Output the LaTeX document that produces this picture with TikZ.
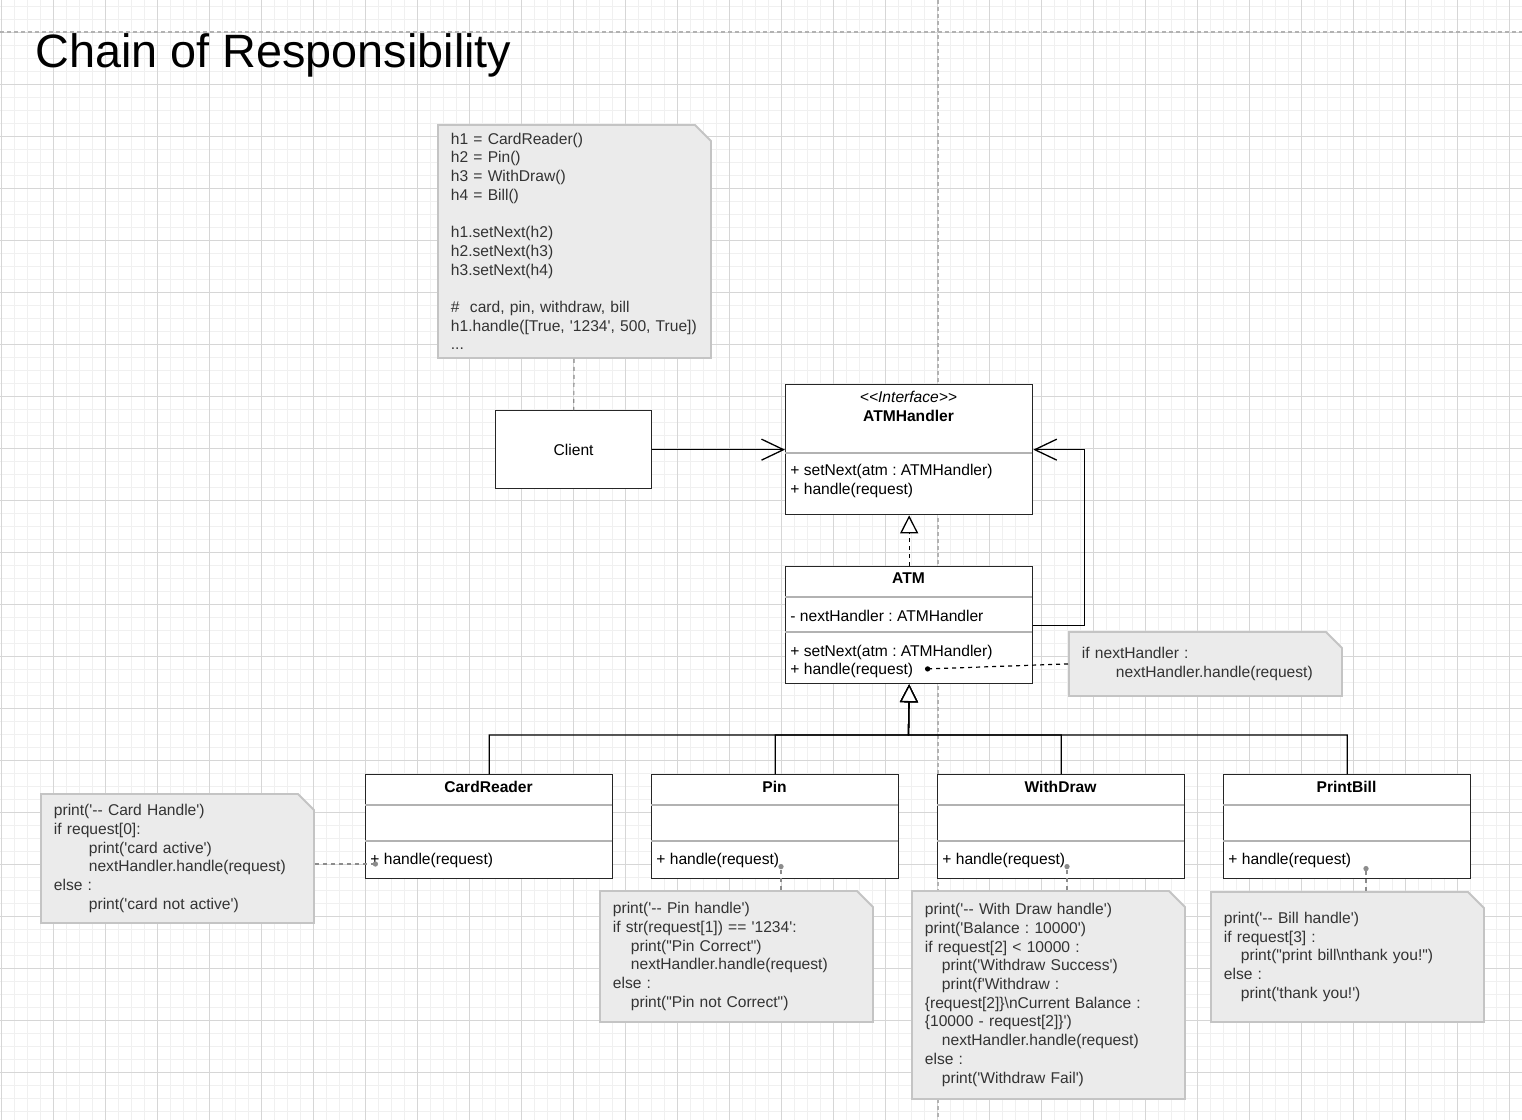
\documentclass[tikz,border=0pt]{standalone}
\usepackage{fontspec}
\setmainfont{Liberation Sans}[Ligatures=TeXOff]
\usepackage{tikz}
\usetikzlibrary{arrows.meta,shapes.misc}
\definecolor{gridminor}{HTML}{F0F0F0}
\definecolor{gridmajor}{HTML}{D6D6D6}
\definecolor{notefill}{HTML}{EBEBEB}
\definecolor{noteline}{HTML}{C4C4C4}
\definecolor{linkgray}{HTML}{8C8C8C}
\frenchspacing

\begin{document}
\begin{tikzpicture}[x=0.5pt,y=-0.5pt,
  font=\fontsize{7.8pt}{9.35pt}\selectfont,
  umlbox/.style={draw=black!85,line width=0.65pt,fill=white,anchor=north west,inner sep=0pt,minimum width=123.5pt},
  divider/.style={draw=black!30,line width=0.65pt},
  classname/.style={inner sep=0pt,font=\fontsize{7.8pt}{9.35pt}\selectfont\bfseries},
  ops/.style={inner sep=0pt,anchor=west,align=left},
  note/.style={shape=chamfered rectangle,chamfered rectangle corners=north east,
    chamfered rectangle xsep=4pt,chamfered rectangle ysep=4pt,
    fill=notefill,draw=noteline,line width=0.9pt,anchor=north west,
    inner xsep=2.5pt,inner ysep=0pt,text width=123.5pt,align=left,text=black!80,
    path picture={\draw[noteline,line width=0.9pt] ([xshift=-4pt]path picture bounding box.north east) |- ([yshift=-4pt]path picture bounding box.north east);}},
  pageline/.style={draw=black!30,line width=0.7pt,dash pattern=on 2pt off 1.5pt},
  assoc/.style={line width=0.65pt,-{Straight Barb[length=11pt,width=10.5pt,line width=0.65pt]}},
  realize/.style={line width=0.65pt,dash pattern=on 2pt off 2pt,-{Triangle[open,fill=white,length=9pt,width=9pt,line width=0.65pt]}},
  inherit/.style={line width=0.65pt,-{Triangle[open,fill=white,length=9pt,width=9pt,line width=0.65pt]}},
  notelink/.style={line width=0.6pt,dash pattern=on 2pt off 2pt,-{Circle[length=2.6pt]}}]
\useasboundingbox (0,0) rectangle (1522,1120);
\foreach \k in {0,...,116} \draw[gridminor,line width=0.5pt] ({1+13*\k},0) -- ({1+13*\k},1120);
\foreach \k in {0,...,85} \draw[gridminor,line width=0.5pt] (0,{6+13*\k}) -- (1522,{6+13*\k});
\foreach \k in {0,...,29} \draw[gridmajor,line width=0.5pt] ({1+52*\k},0) -- ({1+52*\k},1120);
\foreach \k in {0,...,20} \draw[gridmajor,line width=0.5pt] (0,{32+52*\k}) -- (1522,{32+52*\k});
\draw[pageline] (0,32) -- (1522,32) (938,0) -- (938,1120);
\node[anchor=base west,inner sep=0pt,font=\fontsize{23.4pt}{28pt}\selectfont] (heading) at (35,67) {Chain of Responsibility};

\node[note,minimum height=116.5pt] (codenote) at (437,124) {h1 = CardReader()\\
h2 = Pin()\\
h3 = WithDraw()\\
h4 = Bill()\\[9.35pt]
h1.setNext(h2)\\
h2.setNext(h3)\\
h3.setNext(h4)\\[9.35pt]
\# \ card, pin, withdraw, bill\\
h1.handle([True, '1234', 500, True])\\
...};
\node[umlbox,minimum width=78pt,minimum height=39pt] (client) at (495,410) {Client};

\node[umlbox,minimum height=65pt] (handler) at (785,384) {};
\node[inner sep=0pt,font=\fontsize{7.8pt}{9.35pt}\selectfont\itshape] (stereo) at (908.5,397) {<<Interface>>};
\node[classname] (handlername) at (908.5,416) {ATMHandler};
\draw[divider] (785,453) -- (1032,453);
\node[ops] (handlerops) at (790,481) {+ setNext(atm : ATMHandler)\\+ handle(request)};

\node[umlbox,minimum height=58.5pt] (atm) at (785,566) {};
\node[classname] (atmname) at (908.5,578) {ATM};
\draw[divider] (785,597) -- (1032,597) (785,632) -- (1032,632);
\node[ops] (atmattr) at (790,616) {- nextHandler : ATMHandler};
\node[ops] (atmops) at (790,661.5) {+ setNext(atm : ATMHandler)\\+ handle(request)};

\node[note,minimum height=32pt] (atmnote) at (1068,631) {if nextHandler :\\
\hspace*{17pt}nextHandler.handle(request)};

\node[umlbox,minimum height=52pt] (cardreader) at (365,774) {};
\node[classname] (crname) at (488.5,787) {CardReader};
\draw[divider] (365,805) -- (612,805) (365,841) -- (612,841);
\node[ops] (crops) at (370,860) {+ handle(request)};

\node[umlbox,minimum height=52pt] (pin) at (651,774) {};
\node[classname] (pinname) at (774.5,787) {Pin};
\draw[divider] (651,805) -- (898,805) (651,841) -- (898,841);
\node[ops] (pinops) at (656,860) {+ handle(request)};

\node[umlbox,minimum height=52pt] (withdraw) at (937,774) {};
\node[classname] (wdname) at (1060.5,787) {WithDraw};
\draw[divider] (937,805) -- (1184,805) (937,841) -- (1184,841);
\node[ops] (wdops) at (942,860) {+ handle(request)};

\node[umlbox,minimum height=52pt] (printbill) at (1223,774) {};
\node[classname] (pbname) at (1346.5,787) {PrintBill};
\draw[divider] (1223,805) -- (1470,805) (1223,841) -- (1470,841);
\node[ops] (pbops) at (1228,860) {+ handle(request)};

\node[note,minimum height=64.5pt] (crnote) at (40,793) {print('-- Card Handle')\\
if request[0]:\\
\hspace*{17.5pt}print('card active')\\
\hspace*{17.5pt}nextHandler.handle(request)\\
else :\\
\hspace*{17.5pt}print('card not active')};
\node[note,minimum height=65.5pt] (pinnote) at (599,890) {print('-- Pin handle')\\
if str(request[1]) == '1234':\\
\hspace*{9pt}print("Pin Correct")\\
\hspace*{9pt}nextHandler.handle(request)\\
else :\\
\hspace*{9pt}print("Pin not Correct")};
\node[note,minimum height=104pt] (wdnote) at (911,890) {print('-- With Draw handle')\\
print('Balance : 10000')\\
if request[2] < 10000 :\\
\hspace*{8.5pt}print('Withdraw Success')\\
\hspace*{8.5pt}print(f'Withdraw :\\
\{request[2]\}\textbackslash nCurrent Balance :\\
\{10000 - request[2]\}')\\
\hspace*{8.5pt}nextHandler.handle(request)\\
else :\\
\hspace*{8.5pt}print('Withdraw Fail')};
\node[note,minimum height=65pt] (pbnote) at (1210,891) {print('-- Bill handle')\\
if request[3] :\\
\hspace*{8.5pt}print("print bill\textbackslash nthank you!")\\
else :\\
\hspace*{8.5pt}print('thank you!')};

\coordinate (bus) at (908.5,735);
\coordinate (atmdot) at (925,669);
\coordinate (crdot) at (378,864);
\coordinate (pindot) at (781,864);
\coordinate (wddot) at (1067,864);
\coordinate (pbdot) at (1366,866);
\draw[linkgray,line width=0.6pt,dash pattern=on 2pt off 2pt] (codenote) -- (client);
\draw[assoc] (client) -- (handler);
\draw[assoc] (atm.east) -- ++(51,0) |- (handler.east);
\draw[realize] (atm) -- (handler);
\draw[inherit] (cardreader.north) |- (bus) -- (atm.south);
\draw[inherit] (pin.north) |- (bus) -- (atm.south);
\draw[inherit] (withdraw.north) |- (bus) -- (atm.south);
\draw[inherit] (printbill.north) |- (bus) -- (atm.south);
\draw[notelink] (atmnote.west) -- (atmdot);
\draw[notelink,linkgray] (crnote.east |- crdot) -- (crdot);
\draw[notelink,linkgray] (pinnote.north -| pindot) -- (pindot);
\draw[notelink,linkgray] (wdnote.north -| wddot) -- (wddot);
\draw[notelink,linkgray] (pbnote.north -| pbdot) -- (pbdot);
\end{tikzpicture}
\end{document}
